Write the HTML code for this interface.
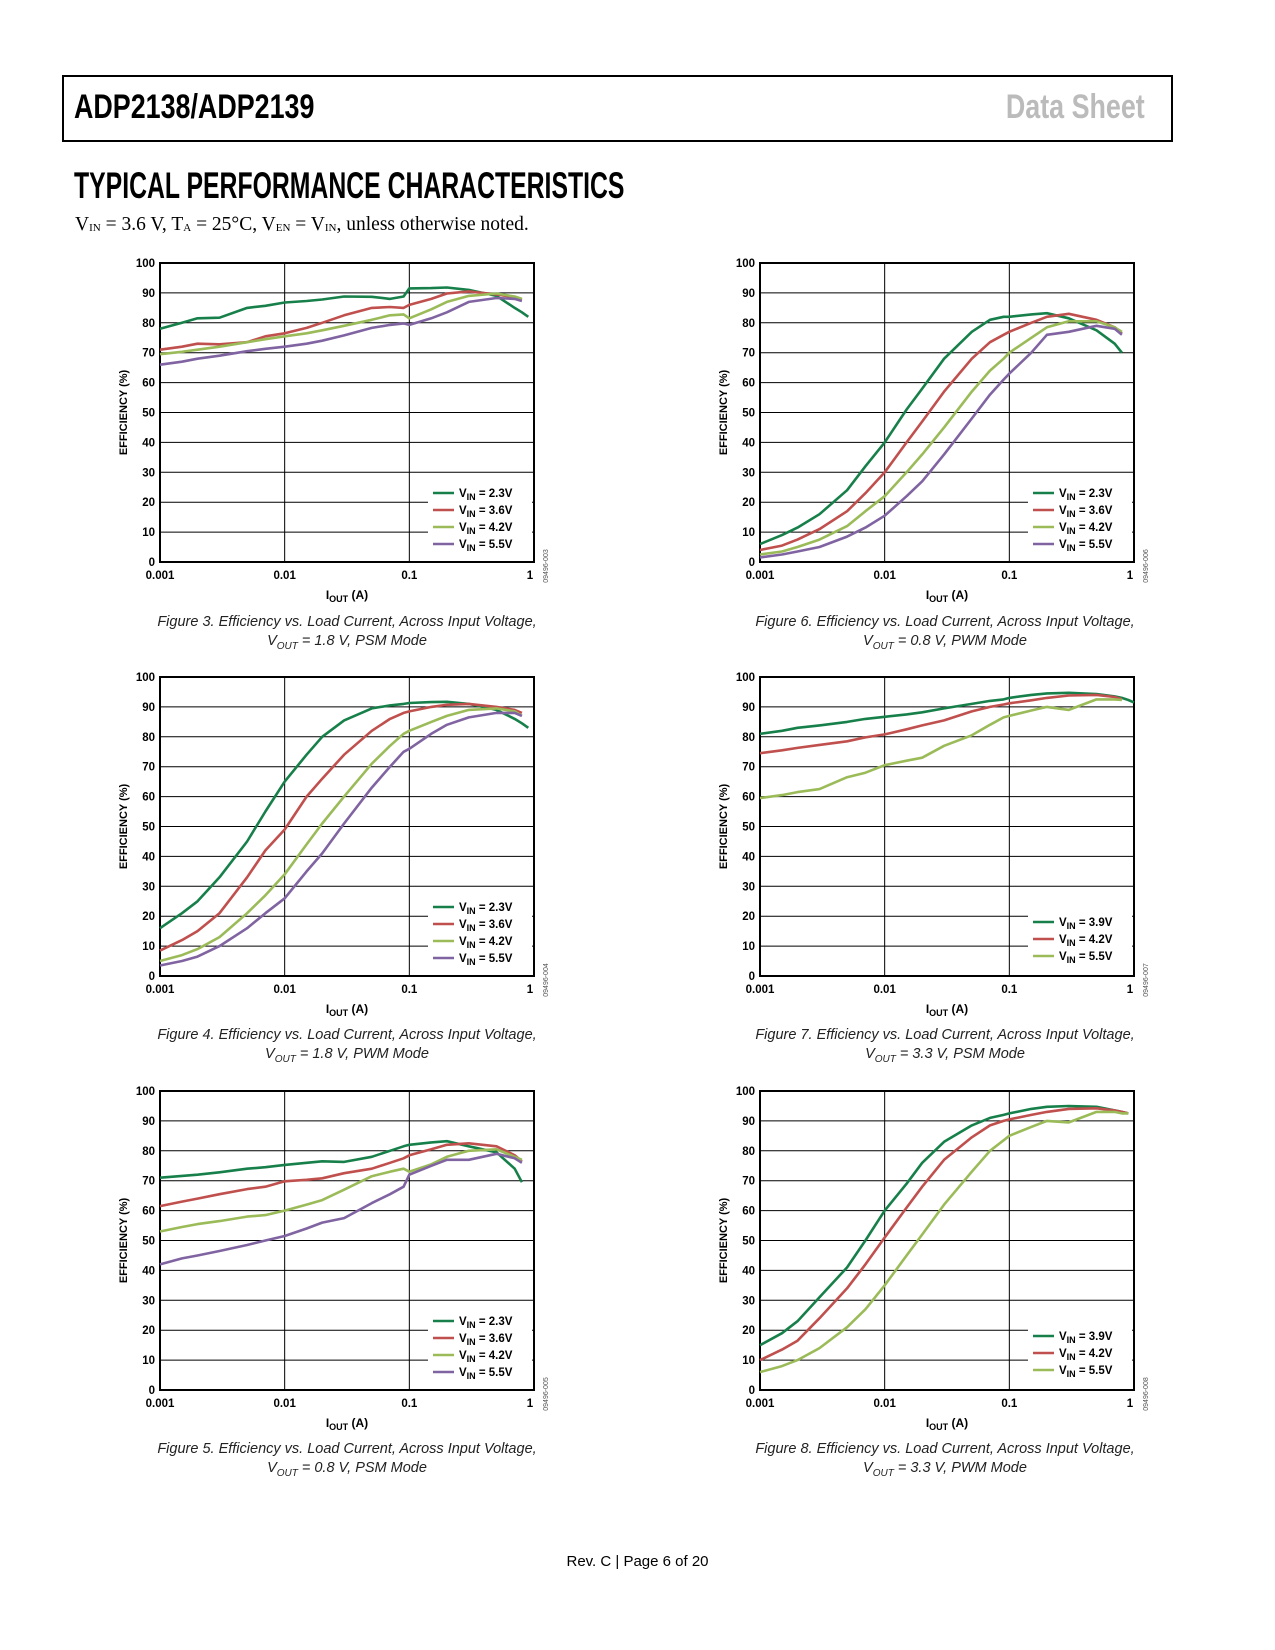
<!DOCTYPE html>
<html><head><meta charset="utf-8">
<style>
body{margin:0;background:#fff;width:1275px;height:1650px;position:relative;overflow:hidden;font-family:"Liberation Sans",sans-serif}
.hdr{position:absolute;left:62px;top:75px;width:1111px;height:67px;border:2px solid #000;box-sizing:border-box}
.title{position:absolute;left:74px;top:88px;font-family:"Liberation Sans Narrow","Liberation Sans",sans-serif;font-weight:bold;font-size:34px;color:#000;transform:scaleX(0.79);transform-origin:left;white-space:nowrap}
.ds{position:absolute;right:130px;top:88px;font-family:"Liberation Sans Narrow","Liberation Sans",sans-serif;font-weight:bold;font-size:34px;color:#bbb;transform:scaleX(0.79);transform-origin:right;white-space:nowrap}
.sec{position:absolute;left:74px;top:165px;font-family:"Liberation Sans Narrow","Liberation Sans",sans-serif;font-weight:bold;font-size:37px;color:#000;transform:scaleX(0.67);transform-origin:left;white-space:nowrap}
.cond{position:absolute;left:75px;top:214px;font-family:"Liberation Serif",serif;font-size:19.5px;white-space:nowrap}
.cond sub{font-size:11px;vertical-align:-1px}
.cap{position:absolute;width:520px;text-align:center;font-family:"Liberation Sans Narrow","Liberation Sans",sans-serif;font-style:italic;font-size:14.5px;line-height:19px;color:#222}
.cap sub{font-size:10px}
.foot{position:absolute;left:0;width:1275px;top:1553px;text-align:center;font-family:"Liberation Sans Narrow","Liberation Sans",sans-serif;font-size:15px}
svg text{font-family:"Liberation Sans",sans-serif}
</style></head><body>
<div class="hdr"></div>
<div class="title">ADP2138/ADP2139</div>
<div class="ds">Data Sheet</div>
<div class="sec">TYPICAL PERFORMANCE CHARACTERISTICS</div>
<div class="cond">V<sub>IN</sub> = 3.6 V, T<sub>A</sub> = 25°C, V<sub>EN</sub> = V<sub>IN</sub>, unless otherwise noted.</div>
<svg id="charts" width="1275" height="1650" style="position:absolute;left:0;top:0"></svg>
<div class="cap" style="left:87px;top:613px">Figure 3. Efficiency vs. Load Current, Across Input Voltage,<br>V<sub>OUT</sub> = 1.8 V, PSM Mode</div>
<div class="cap" style="left:685px;top:613px">Figure 6. Efficiency vs. Load Current, Across Input Voltage,<br>V<sub>OUT</sub> = 0.8 V, PWM Mode</div>
<div class="cap" style="left:87px;top:1026px">Figure 4. Efficiency vs. Load Current, Across Input Voltage,<br>V<sub>OUT</sub> = 1.8 V, PWM Mode</div>
<div class="cap" style="left:685px;top:1026px">Figure 7. Efficiency vs. Load Current, Across Input Voltage,<br>V<sub>OUT</sub> = 3.3 V, PSM Mode</div>
<div class="cap" style="left:87px;top:1440px">Figure 5. Efficiency vs. Load Current, Across Input Voltage,<br>V<sub>OUT</sub> = 0.8 V, PSM Mode</div>
<div class="cap" style="left:685px;top:1440px">Figure 8. Efficiency vs. Load Current, Across Input Voltage,<br>V<sub>OUT</sub> = 3.3 V, PWM Mode</div>
<div class="foot">Rev. C | Page 6 of 20</div>
<script>
const loadCurrents=[0.001,0.0015,0.002,0.003,0.005,0.007,0.01,0.015,0.02,0.03,0.05,0.07,0.09,0.1,0.15,0.2,0.3,0.5,0.7,0.8,0.9,1];
const yTicks=[0,10,20,30,40,50,60,70,80,90,100];
const xTicks=[0.001,0.01,0.1,1];
const xTickLabels=["0.001","0.01","0.1","1"];
const fig3_v23=[78,80,81.5,81.7,85,85.7,86.8,87.3,87.8,88.8,88.7,88,88.8,91.5,91.6,91.8,91,89,85,83.5,82,null];
const fig3_v36=[71,72,73,72.8,73.5,75.5,76.5,78.3,80,82.5,85,85.3,85,86,88,89.8,90.5,89.5,88.5,87.7,null,null];
const fig3_v42=[69.5,70.3,71,72,73.5,74.5,75.5,76.5,77.5,79,81,82.5,82.8,81.5,84.5,87,89,89.8,88.8,88,null,null];
const fig3_v55=[66,67,68,69,70.5,71.3,72,73,74,75.8,78.3,79.3,79.8,79.3,81.5,83.5,87,88.3,88,87.3,null,null];
const fig4_v23=[16,21,25,33,45,55,65,74,80,85.5,89.5,90.5,91,91.3,91.6,91.7,91,89,86,84.5,83,null];
const fig4_v36=[8.5,12,15,21,33,42,49,60,66,74,82,86,88,88.5,90,90.7,91,90,89,88,null,null];
const fig4_v42=[5,7,9,13,21,27,34,44,51,60,71,77,81,82,85,87,89,89.5,88.5,87,null,null];
const fig4_v55=[3.5,5,6.5,10,16,21,26,35,41,51,63,70,75,76,81,84,86.5,88,88,87,null,null];
const fig5_v23=[71,71.6,72,72.8,74,74.5,75.3,76,76.5,76.3,78,80,81.5,82,82.8,83.2,81.5,79.5,74,69.5,null,null];
const fig5_v36=[61.5,63,64,65.5,67.2,68,69.8,70.3,70.8,72.5,74,76,77.5,78.5,80.5,82,82.5,81.5,78.5,76.5,null,null];
const fig5_v42=[53,54.5,55.5,56.5,58,58.5,60,62,63.5,67,71.5,73,74,73,75.5,78,80,80.5,78,77,null,null];
const fig5_v55=[42,44,45,46.5,48.5,50,51.5,54,56,57.5,62.5,65.5,68,72,75,77,77,79,77.5,76,null,null];
const fig6_v23=[6,9,11.5,16,24,32,40,51,58,68,77,81,82,82,82.8,83.2,81.5,77.5,73,70,null,null];
const fig6_v36=[4,5.5,7.5,11,17,23,30,40,47,57,68,73.5,76,77,80,82,83,81,78.5,76.5,null,null];
const fig6_v42=[2.5,3.5,5,7.5,12,17,22,30,36,45,57,64,68,70,75,78.5,80.5,80.5,78.5,77,null,null];
const fig6_v55=[1.5,2.5,3.5,5,8.5,11.5,15.5,22,27,36,48,56,61,63,70,76,77,79,78,76,null,null];
const fig7_v39=[81,82,83,83.8,85,86,86.7,87.5,88.2,89.5,91,92,92.5,93,94,94.5,94.7,94.3,93.5,93,92.3,91.5];
const fig7_v42=[74.5,75.5,76.3,77.3,78.5,79.8,80.8,82.5,83.8,85.5,88.5,90,90.8,91.2,92.2,93,93.8,94,93.3,92.5,null,null];
const fig7_v55=[59.5,60.5,61.5,62.5,66.5,68,70.5,72,73,77,80.5,84,86.5,87,88.8,90,89,92.5,92.5,92.3,null,null];
const fig8_v39=[15,19,23,31,41,50,60,69,76,83,88.5,91,92,92.5,94,94.7,95,94.7,93.5,93,92.5,null];
const fig8_v42=[10,13.5,16.5,24,34,42,51,61,68,77,84.5,88.5,90,90.5,92,93,94,94.2,93.5,93,92.5,null];
const fig8_v55=[6,8,10,14,21,27,35,45,52,62,73,80,83.5,85,88,90,89.5,93,93,92.5,92.5,null];
const C_G="#17804a",C_R="#c0504d",C_L="#9bbb59",C_P="#8064a2";

const NS="http://www.w3.org/2000/svg";
const svg=document.getElementById('charts');
function mk(tag,attrs,parent){const e=document.createElementNS(NS,tag);for(const k in attrs)e.setAttribute(k,attrs[k]);(parent||svg).appendChild(e);return e;}

function chart(id,L,T,series,code){
  const W=374,H=299;
  const g=mk('g',{});
  
  
  const xs=v=>L+(Math.log10(v)+3)/3*W;
  const ys=v=>T+H-v/100*H;
  yTicks.forEach(t=>{
    const gl=mk('line',{x1:L,x2:L+W,y1:ys(t),y2:ys(t),stroke:'#000','stroke-width':1},g);
    
    
    const tl=mk('text',{x:L-5,y:ys(t)+4,'text-anchor':'end','font-size':11.5,'font-weight':'bold'},g);
    tl.textContent=t;
    
    
  });
  xTicks.forEach((t,i)=>{
    const gl=mk('line',{x1:xs(t),x2:xs(t),y1:T,y2:T+H,stroke:'#000','stroke-width':1},g);
    
    
    const tl=mk('text',{x:xs(t)-(i==3?4:0),y:T+H+17,'text-anchor':'middle','font-size':11.5,'font-weight':'bold'},g);
    tl.textContent=xTickLabels[i];
    
    
  });
  const fr=mk('rect',{x:L,y:T,width:W,height:H,fill:'none',stroke:'#000','stroke-width':2},g);
  
  
  const n=series.length;
  const ly0=T+H-(n==4?69:54);
  const lb=mk('rect',{x:L+268,y:ly0-13,width:W-270,height:n*17.3+8,fill:'#fff'},g);
  
  
  series.forEach(s=>{
    let d='';let pen=false;
    s.v.forEach((v,i)=>{ if(v===null){pen=false;return;} d+=(pen?'L':'M')+xs(loadCurrents[i]).toFixed(1)+','+ys(v).toFixed(1);pen=true;});
    const p=mk('path',{d:d,fill:'none',stroke:s.c,'stroke-width':2.6,'stroke-linejoin':'round'},g);
    
    
  });
  series.forEach((s,k)=>{
    const y=ly0+k*17;
    const ll=mk('line',{x1:L+273,x2:L+294,y1:y,y2:y,stroke:s.c,'stroke-width':2.6},g);
    
    
    const tx=mk('text',{x:L+299,y:y+4,'font-size':11.5,'font-weight':'bold'},g);
    tx.innerHTML='V<tspan font-size="9" dy="3">IN</tspan><tspan dy="-3"> = '+s.n+'V</tspan>';
    
    
  });
  const xt=mk('text',{x:L+W/2,y:T+H+37,'text-anchor':'middle','font-size':12,'font-weight':'bold'},g);
  xt.innerHTML='I<tspan font-size="9" dy="3">OUT</tspan><tspan dy="-3"> (A)</tspan>';
  
  
  const yt=mk('text',{x:0,y:0,'text-anchor':'middle','font-size':11,'font-weight':'bold',transform:'translate('+(L-33)+','+(T+H/2)+') rotate(-90)'},g);
  yt.textContent='EFFICIENCY (%)';
  
  
  const ct=mk('text',{x:0,y:0,'text-anchor':'middle','font-size':7,fill:'#555',transform:'translate('+(L+W+14)+','+(T+H+4)+') rotate(-90)'},g);
  ct.textContent=code;
  
  
}
chart('figure-3-chart',160,263,[{n:'2.3',v:fig3_v23,c:C_G},{n:'3.6',v:fig3_v36,c:C_R},{n:'4.2',v:fig3_v42,c:C_L},{n:'5.5',v:fig3_v55,c:C_P}],'09496-003');
chart('figure-4-chart',160,677,[{n:'2.3',v:fig4_v23,c:C_G},{n:'3.6',v:fig4_v36,c:C_R},{n:'4.2',v:fig4_v42,c:C_L},{n:'5.5',v:fig4_v55,c:C_P}],'09496-004');
chart('figure-5-chart',160,1091,[{n:'2.3',v:fig5_v23,c:C_G},{n:'3.6',v:fig5_v36,c:C_R},{n:'4.2',v:fig5_v42,c:C_L},{n:'5.5',v:fig5_v55,c:C_P}],'09496-005');
chart('figure-6-chart',760,263,[{n:'2.3',v:fig6_v23,c:C_G},{n:'3.6',v:fig6_v36,c:C_R},{n:'4.2',v:fig6_v42,c:C_L},{n:'5.5',v:fig6_v55,c:C_P}],'09496-006');
chart('figure-7-chart',760,677,[{n:'3.9',v:fig7_v39,c:C_G},{n:'4.2',v:fig7_v42,c:C_R},{n:'5.5',v:fig7_v55,c:C_L}],'09496-007');
chart('figure-8-chart',760,1091,[{n:'3.9',v:fig8_v39,c:C_G},{n:'4.2',v:fig8_v42,c:C_R},{n:'5.5',v:fig8_v55,c:C_L}],'09496-008');
</script>
</body></html>
